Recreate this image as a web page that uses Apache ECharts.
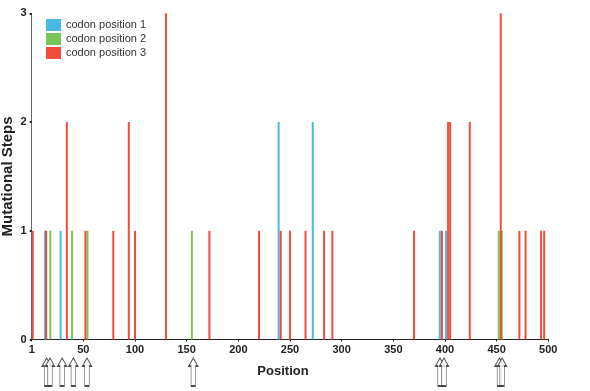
<!DOCTYPE html>
<html>
<head>
<meta charset="utf-8">
<script src="https://cdn.jsdelivr.net/npm/echarts@6/dist/echarts.min.js"></script>
<style>
  html, body { margin: 0; padding: 0; background: #fff; }
  #chart { width: 590px; height: 391px; }
</style>
</head>
<body>
<div id="chart"></div>
<script>
// [position, mutational steps]
var codon1 = [[13, 1], [28, 1], [239, 2], [272, 2], [395, 1], [401, 1]];
var codon2 = [[18, 1], [39, 1], [54, 1], [155, 1], [452, 1], [455, 1]];
var codon3 = [[1, 1], [14, 1], [34, 2], [52, 1], [79, 1], [94, 2], [100, 1], [130, 3],
  [172, 1], [220, 1], [241, 1], [250, 1], [265, 1], [283, 1], [291, 1], [370, 1],
  [397, 1], [403, 2], [405, 2], [424, 2], [454, 3], [472, 1], [478, 1], [493, 1], [496, 1]];
// arrows under the axis
var arrowPositions = [14.5, 17.7, 29.5, 40.3, 53.5, 156.4, 395.2, 399, 452.7, 455.3];

var colors = ['#37b0e3', '#6cbf46', '#ee3a25'];
var fontFam = '"Liberation Sans", Arial, Helvetica, sans-serif';

var chart = echarts.init(document.getElementById('chart'));

function barSeries(name, data, color) {
  return {
    name: name,
    type: 'bar',
    data: data,
    barWidth: 2,
    barGap: '-100%',
    itemStyle: { color: color, opacity: 0.9 },
    xAxisIndex: 0,
    yAxisIndex: 0
  };
}

chart.setOption({
  animation: false,
  textStyle: { fontFamily: fontFam },
  legend: {
    orient: 'vertical',
    left: 46,
    top: 19,
    padding: 0,
    itemWidth: 15,
    itemHeight: 12,
    itemGap: 2,
    icon: 'rect',
    data: ['codon position 1', 'codon position 2', 'codon position 3'],
    textStyle: { fontSize: 11, color: '#333', fontFamily: fontFam }
  },
  grid: [
    { left: 31.7, right: 41.7, top: 13.3, bottom: 51.5, outerBoundsMode: 'none', containLabel: false },
    { left: 31.7, right: 41.7, top: 358, bottom: 5, outerBoundsMode: 'none', containLabel: false }
  ],
  xAxis: [{
    type: 'value',
    gridIndex: 0,
    min: 0,
    max: 500,
    interval: 50,
    name: 'Position',
    nameLocation: 'middle',
    nameGap: 25,
    nameMoveOverlap: false,
    nameTextStyle: { fontSize: 13, fontWeight: 'bold', color: '#222', padding: [0, 14, 0, 0] },
    axisLine: { lineStyle: { color: '#222', width: 1.2 } },
    axisTick: { show: true, length: 2, lineStyle: { color: '#222' } },
    axisLabel: {
      margin: 5,
      fontSize: 11,
      fontWeight: 'bold',
      color: '#222',
      formatter: function (v) { return v === 0 ? '1' : String(v); }
    },
    splitLine: { show: false }
  }, {
    type: 'value',
    gridIndex: 1,
    min: 0,
    max: 500,
    show: false
  }],
  yAxis: [{
    type: 'value',
    gridIndex: 0,
    min: 0,
    max: 3,
    interval: 1,
    name: 'Mutational Steps',
    nameLocation: 'middle',
    nameGap: 16,
    nameMoveOverlap: false,
    nameTextStyle: { fontSize: 15, fontWeight: 'bold', color: '#222' },
    axisLine: { show: true, lineStyle: { color: '#666', width: 1 } },
    axisTick: { show: true, length: 2, lineStyle: { color: '#222', width: 2 } },
    axisLabel: { margin: 5, fontSize: 11, fontWeight: 'bold', color: '#222', padding: [0, 0, 7, 0] },
    splitLine: { show: false }
  }, {
    type: 'value',
    gridIndex: 1,
    min: -1,
    max: 1,
    show: false
  }],
  series: [
    barSeries('codon position 1', codon1, colors[0]),
    barSeries('codon position 2', codon2, colors[1]),
    barSeries('codon position 3', codon3, colors[2]),
    {
      name: 'arrows',
      type: 'scatter',
      xAxisIndex: 1,
      yAxisIndex: 1,
      data: arrowPositions.map(function (p) { return [p, 0]; }),
      symbol: 'path://M4,0 L8,8 L6,8 L6,28 L2,28 L2,8 L0,8 Z',
      symbolSize: [9, 28],
      symbolKeepAspect: false,
      itemStyle: { color: '#fff', borderColor: '#222', borderWidth: 1 },
      silent: true
    }
  ]
});
</script>
</body>
</html>
